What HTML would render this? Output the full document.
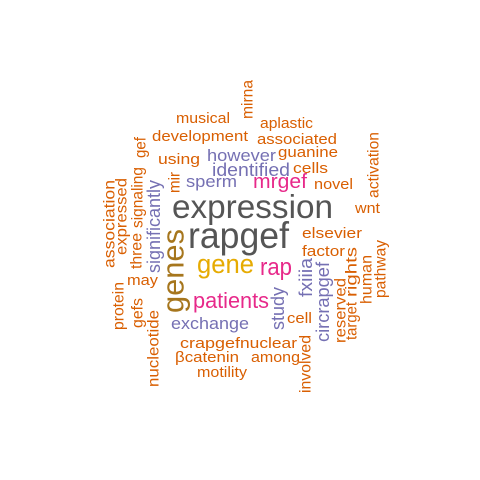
<!DOCTYPE html>
<html><head><meta charset="utf-8"><style>
html,body{margin:0;padding:0;background:#fff;}
svg{display:block;font-family:"Liberation Sans",Arial,sans-serif;}
</style></head><body>
<svg width="480" height="480" viewBox="0 0 480 480">
<rect width="480" height="480" fill="#fff"/>
<g id="words"></g>
</svg>
<script>
var O="#D95F02",P="#7570B3",K="#E7298A",G="#E6AB02",B="#A6761D",D="#555555";
// horizontal: word, x0, x1, baseline, size, color
var horiz=[
["expression",172,333,218,33,D],["rapgef",188,289,248,37,D],["gene",197,254,273,27,G],
["rap",260,292,275,24,K],["patients",193,269,308,22,K],["mrgef",253,307,188,20,K],
["exchange",171,249,329,17,P],["however",207,276,161,17,P],["identified",212,290,176,18,P],
["sperm",186,237,187,17,P],
["musical",176,230,123,15,O],["development",152,248,141,15,O],["using",158,200,164,15,O],
["aplastic",260,313,128,15,O],["associated",257,337,144,15,O],["guanine",278,338,157,15,O],
["cells",293,328,173,15,O],["novel",314,353,189,15,O],["wnt",355,380,213,15,O],
["elsevier",302,362,238,15,O],["factor",302,345,256,15,O],["cell",287,312,323,15,O],
["crapgef",180,240,348,15,O],["nuclear",240,297,348,15,O],["βcatenin",175,239,362,15,O],
["among",251,300,362,15,O],["motility",197,247,377,15,O],["may",127,158,285,15,O]
];
// vertical: word, center x, y0 (top), y1 (bottom), size, color
var vert=[
["mirna",248,80,119,15.5,O],["gef",141,137,158,15.5,O],["signaling",138,167,228,15.5,O],
["significantly",154,180,273,18,P],["mir",175,172,193,15.5,O],["association",110,180,268,15.5,O],
["expressed",122,178,255,15.5,O],["three",137,233,269,15.5,O],["protein",119,282,330,15.5,O],
["gefs",138,298,328,15.5,O],["nucleotide",154,310,387,15.5,O],["genes",173,229,313,31,B],
["fxiiia",306,258,297,18,P],["study",278,287,330,18,P],["circrapgef",323,262,342,18,P],
["reserved",341,278,343,15.5,O],["target",352,302,340,15.5,O],["rights",352,247,297,15.5,O],
["human",367,255,304,15.5,O],["pathway",381,240,298,15.5,O],["involved",306,335,393,15.5,O],
["activation",374,132,198,15.5,O]
];
var g=document.getElementById('words'),ns="http://www.w3.org/2000/svg";
horiz.forEach(function(w){
 var t=document.createElementNS(ns,'text');
 t.setAttribute('x',w[1]);t.setAttribute('y',w[3]);
 t.setAttribute('font-size',w[4]);t.setAttribute('fill',w[5]);
 t.setAttribute('textLength',w[2]-w[1]);t.setAttribute('lengthAdjust','spacingAndGlyphs');
 t.textContent=w[0];
 
 
 g.appendChild(t);
});
vert.forEach(function(w){
 var t=document.createElementNS(ns,'text');
 var cy=(w[2]+w[3])/2;
 t.setAttribute('x',0);t.setAttribute('y',0);
 t.setAttribute('text-anchor','middle');t.setAttribute('dominant-baseline','central');
 t.setAttribute('transform','translate('+w[1]+','+cy+') rotate(-90)');
 t.setAttribute('font-size',w[4]);t.setAttribute('fill',w[5]);
 t.setAttribute('textLength',w[3]-w[2]);t.setAttribute('lengthAdjust','spacingAndGlyphs');
 t.textContent=w[0];
 
 
 g.appendChild(t);
});
</script>
</body></html>
